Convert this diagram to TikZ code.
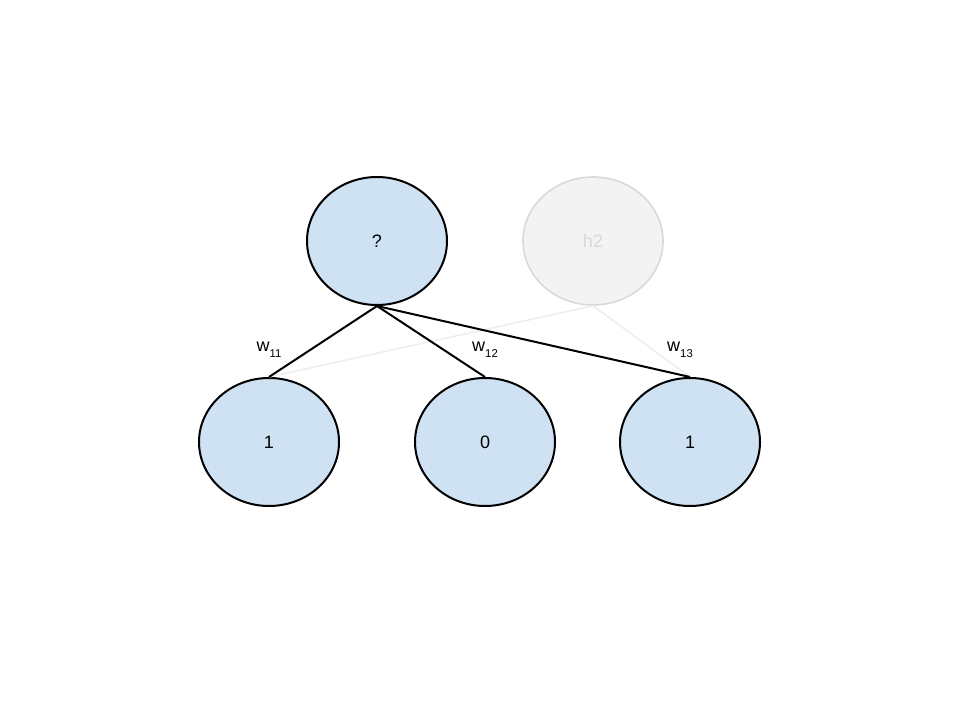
\documentclass[tikz,border=0pt]{standalone}
\usepackage{fontspec}
\setmainfont{Liberation Sans}
\usetikzlibrary{shapes.geometric}
\definecolor{nodeblue}{HTML}{CFE2F3}
\definecolor{ghostfill}{HTML}{F3F3F3}
\definecolor{ghostline}{HTML}{D9D9D9}
\definecolor{ghostedge}{HTML}{EEEEEE}
\tikzset{
  neuron/.style={ellipse, draw=black, line width=1.5pt, fill=nodeblue, minimum width=105pt, minimum height=96pt, inner sep=0pt, font=\fontsize{13.5}{15}\selectfont},
  ghost/.style={ellipse, draw=ghostline, line width=1.2pt, fill=ghostfill, text=ghostline, minimum width=105pt, minimum height=96pt, inner sep=0pt, font=\fontsize{13.5}{15}\selectfont},
  edge/.style={draw=black, line width=1.5pt},
  ghostedgestyle/.style={draw=ghostedge, line width=1.2pt},
  wlabel/.style={font=\fontsize{13.5}{15}\selectfont, inner sep=0pt}
}
\newcommand{\wsub}[1]{w\raisebox{-4.5pt}{\fontsize{8.5}{10}\selectfont #1}}
\begin{document}
\begin{tikzpicture}[x=0.75pt,y=-0.75pt]
\useasboundingbox (0,0) rectangle (960,720);
\node[ghost] (h2) at (593,241) {h2};
\node[neuron] (h1) at (377,241) {?};
\node[neuron] (x1) at (269,442) {1};
\node[neuron] (x2) at (485,442) {0};
\node[neuron] (x3) at (690,442) {1};
\draw[ghostedgestyle] (h2.south) -- (x1.north);
\draw[ghostedgestyle] (h2.south) -- (x3.north);
\draw[edge] (h1.south) -- (x1.north);
\draw[edge] (h1.south) -- (x2.north);
\draw[edge] (h1.south) -- (x3.north);
\node[wlabel] (l1) at (269,350) {\wsub{11}};
\node[wlabel] (l2) at (485,350) {\wsub{12}};
\node[wlabel] (l3) at (680,350) {\wsub{13}};
\end{tikzpicture}
\end{document}
